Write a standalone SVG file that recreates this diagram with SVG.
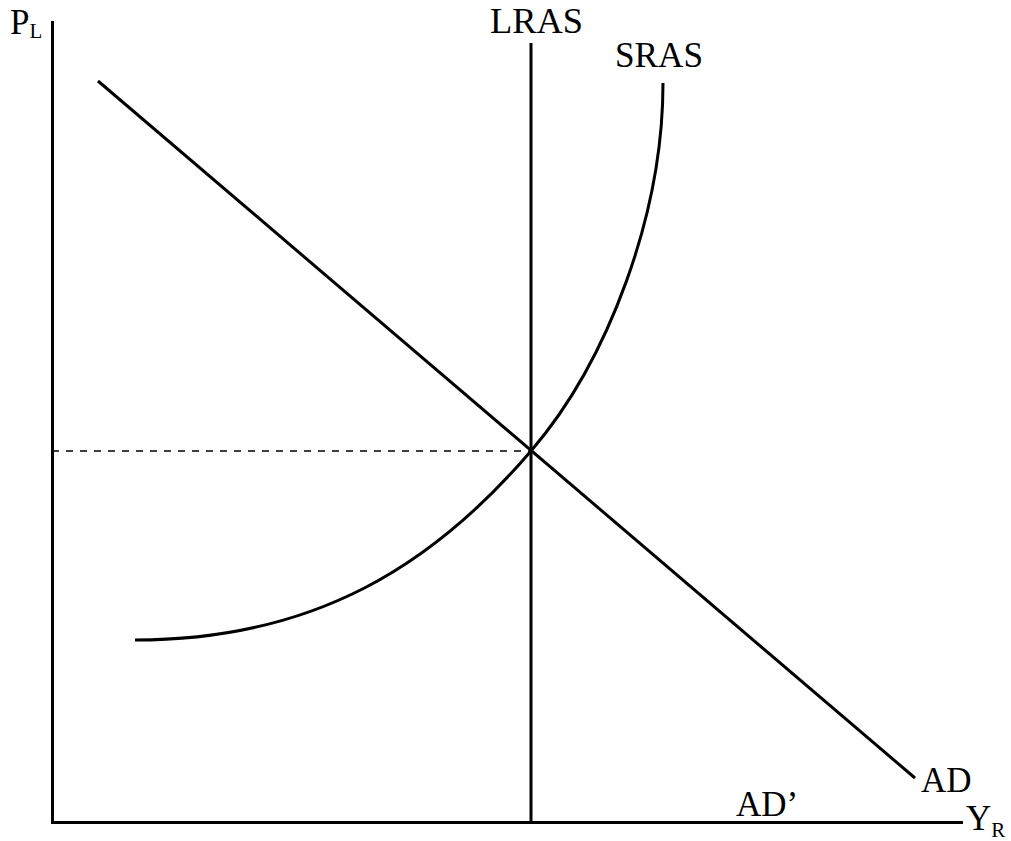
<svg xmlns="http://www.w3.org/2000/svg" width="1011" height="841" viewBox="0 0 1011 841">
<style>
.ln{stroke:#000;stroke-width:3;fill:none}
.t{font-family:"Liberation Serif","Times New Roman",serif;fill:#000}
.big{font-size:35px}
.sub{font-size:21px}
</style>
<rect width="1011" height="841" fill="#fff"/>
<g id="axes">
<path class="ln" d="M52.5,21 V822.5 H963"/>
</g>
<g id="connectors">
<line x1="52" y1="451" x2="531" y2="451" stroke="#000" stroke-width="1.6" stroke-dasharray="7,7"/>
<line id="lras-line" class="ln" x1="531" y1="43" x2="531" y2="822"/>
<line id="ad-line" class="ln" x1="98" y1="81" x2="915" y2="778"/>
<path id="sras-curve" class="ln" d="M135,640 C315,640 433.5,565 531,451 C609,360 663,213 663,83"/>
</g>
<g id="label-pl"><text class="t big" x="10" y="34">P<tspan class="sub" dy="4">L</tspan></text></g>
<g id="label-lras"><text class="t big" x="490" y="33" textLength="93" lengthAdjust="spacingAndGlyphs">LRAS</text></g>
<g id="label-sras"><text class="t big" x="615" y="67" textLength="88" lengthAdjust="spacingAndGlyphs">SRAS</text></g>
<g id="label-ad"><text class="t big" x="921" y="792">AD</text></g>
<g id="label-adp"><text class="t big" x="736" y="816">AD’</text></g>
<g id="label-yr"><text class="t big" x="966" y="830">Y<tspan class="sub" dy="7">R</tspan></text></g>
</svg>
